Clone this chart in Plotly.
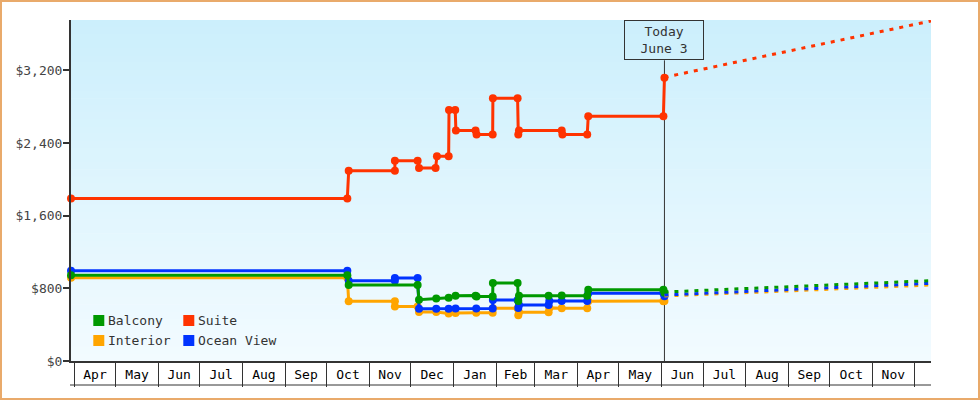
import plotly.graph_objects as go

# ---------------- data ----------------
series_names = ["Interior", "Ocean View", "Balcony", "Suite"]
series_colors = ["#ffa500", "#0033ff", "#009900", "#ff3300"]

interior_dates = ["2012-03-29 14:00", "2012-10-16", "2012-10-17", "2012-11-19 12:00", "2012-11-19 12:00",
                  "2012-12-06", "2012-12-07", "2012-12-19 12:00", "2012-12-28 12:00", "2013-01-02 12:00",
                  "2013-01-17 12:00", "2013-01-29 10:00", "2013-01-29 14:00", "2013-02-16 12:00", "2013-02-17",
                  "2013-02-17 12:00", "2013-03-11", "2013-03-11 12:00", "2013-03-20 12:00", "2013-04-08",
                  "2013-04-08 18:00", "2013-06-02 06:00", "2013-06-03"]
interior_prices = [918, 918, 657, 657, 600, 600, 540, 540, 522, 528,
                   532, 532, 580, 580, 505, 536, 536, 585, 582, 580,
                   657, 657, 660]

ocean_dates = ["2012-03-29 14:00", "2012-10-16", "2012-10-17", "2012-11-19 12:00", "2012-11-19 12:00",
               "2012-12-06", "2012-12-07", "2012-12-19 12:00", "2012-12-28 12:00", "2013-01-02 12:00",
               "2013-01-17 12:00", "2013-01-29 10:00", "2013-01-29 14:00", "2013-02-16 12:00", "2013-02-17",
               "2013-02-17 12:00", "2013-03-11", "2013-03-11 12:00", "2013-03-20 12:00", "2013-04-08",
               "2013-04-08 18:00", "2013-06-02 06:00", "2013-06-03"]
ocean_prices = [995, 995, 883, 883, 913, 913, 575, 575, 575, 578,
                578, 578, 672, 672, 585, 617, 617, 661, 661, 661,
                746, 746, 712]

balcony_dates = ["2012-03-29 14:00", "2012-10-16", "2012-10-17", "2012-12-06", "2012-12-07",
                 "2012-12-19 12:00", "2012-12-28 12:00", "2013-01-02 12:00", "2013-01-17", "2013-01-17 18:00",
                 "2013-01-29 10:00", "2013-01-29 14:00", "2013-02-16 12:00", "2013-02-17", "2013-02-17 12:00",
                 "2013-03-11", "2013-03-20 12:00", "2013-04-08", "2013-04-08 18:00", "2013-06-02 06:00",
                 "2013-06-03"]
balcony_prices = [945, 945, 837, 837, 675, 688, 697, 718, 720, 710,
                  710, 860, 860, 660, 720, 720, 722, 720, 785, 785,
                  752]

suite_dates = ["2012-03-29 14:00", "2012-10-16", "2012-10-17", "2012-11-19 12:00", "2012-11-19 12:00",
               "2012-12-06", "2012-12-07", "2012-12-19", "2012-12-20", "2012-12-28 12:00",
               "2012-12-28 18:00", "2013-01-02 06:00", "2013-01-02 18:00", "2013-01-17", "2013-01-17 18:00",
               "2013-01-29 10:00", "2013-01-29 14:00", "2013-02-16 12:00", "2013-02-17", "2013-02-17 12:00",
               "2013-03-20 12:00", "2013-03-21", "2013-04-08", "2013-04-08 18:00", "2013-06-02 06:00",
               "2013-06-03"]
suite_prices = [1790, 1790, 2095, 2095, 2205, 2205, 2125, 2125, 2255, 2255,
                2765, 2765, 2540, 2540, 2495, 2495, 2895, 2895, 2495, 2540,
                2540, 2495, 2495, 2695, 2695, 3120]

proj_dates = ["2013-06-03", "2013-12-13 08:00"]
interior_proj = [716, 837]
ocean_proj = [727, 856]
balcony_proj = [760, 885]
suite_proj = [3125, 3745]

today_date = "2013-06-03"
today_label = "Today<br>June 3"
x_range = ["2012-03-29 14:00", "2013-12-13 08:00"]
y_range = [0, 3756]
y_ticks = [0, 800, 1600, 2400, 3200]
y_tick_labels = ["$0", "$800", "$1,600", "$2,400", "$3,200"]
legend_order = ["Balcony", "Suite", "Interior", "Ocean View"]

# ---------------- layout geometry (pixels) ----------------
W, H = 980, 400
ML, MR, MT, MB = 71, 49, 20, 39
PW, PH = W - ML - MR, H - MT - MB


def px_x(px):
    return (px - ML) / PW


def px_y(py):
    return (H - MB - py) / PH


FONT = "DejaVu Sans Mono, monospace"

series = {
    "Interior": (interior_dates, interior_prices, interior_proj),
    "Ocean View": (ocean_dates, ocean_prices, ocean_proj),
    "Balcony": (balcony_dates, balcony_prices, balcony_proj),
    "Suite": (suite_dates, suite_prices, suite_proj),
}
color_of = dict(zip(series_names, series_colors))

fig = go.Figure()
for name in series_names:
    d, p, pr = series[name]
    fig.add_trace(go.Scatter(
        x=d, y=p, mode="lines+markers", name=name, showlegend=False,
        line=dict(color=color_of[name], width=3),
        marker=dict(color=color_of[name], size=8, symbol="circle"),
        cliponaxis=False, hoverinfo="skip"))
for name in series_names:
    d, p, pr = series[name]
    fig.add_trace(go.Scatter(
        x=proj_dates, y=pr, mode="lines", showlegend=False,
        line=dict(color=color_of[name], width=3, dash="4px,6px"),
        hoverinfo="skip"))

shapes = []
# gradient background of plot area
N = 48
top = (204, 239, 252)
bot = (242, 251, 255)
for i in range(N):
    t = i / (N - 1)
    c = tuple(round(top[k] + (bot[k] - top[k]) * t) for k in range(3))
    shapes.append(dict(type="rect", xref="paper", yref="paper", layer="below",
                       x0=0, x1=1, y1=1 - i / N, y0=1 - (i + 1) / N - 0.002,
                       fillcolor="rgb(%d,%d,%d)" % c, line=dict(width=0)))
# today line
shapes.append(dict(type="line", xref="x", yref="paper", layer="below",
                   x0=today_date, x1=today_date, y0=0, y1=px_y(60.3),
                   line=dict(color="#333333", width=1)))
# bottom line of month boxes
shapes.append(dict(type="line", xref="paper", yref="paper",
                   x0=px_x(70), x1=1, y0=px_y(385), y1=px_y(385),
                   line=dict(color="#333333", width=1)))
# outer border
shapes.append(dict(type="rect", xref="paper", yref="paper",
                   x0=px_x(1), x1=px_x(979), y0=px_y(399), y1=px_y(1),
                   line=dict(color="#e9aa6b", width=2), fillcolor="rgba(0,0,0,0)"))

annotations = [dict(x=today_date, xref="x", y=1, yref="paper", yanchor="top", xanchor="center",
                    text=today_label, showarrow=False, align="center",
                    font=dict(family=FONT, size=13, color="#333333"),
                    bordercolor="#333333", borderwidth=1, borderpad=1,
                    width=76, height=36)]

# manual legend (2 columns)
leg_cols = [93.3, 183.3]
leg_rows = [320.5, 340.5]
for i, name in enumerate(legend_order):
    cx = leg_cols[i % 2]
    cy = leg_rows[i // 2]
    shapes.append(dict(type="rect", xref="paper", yref="paper",
                       x0=px_x(cx), x1=px_x(cx + 11), y0=px_y(cy + 5.5), y1=px_y(cy - 5.5),
                       fillcolor=color_of[name], line=dict(width=0)))
    annotations.append(dict(x=px_x(cx + 12.5), y=px_y(cy), xref="paper", yref="paper",
                            xanchor="left", yanchor="middle", showarrow=False, text=name,
                            font=dict(family=FONT, size=13, color="#333333")))

fig.update_layout(
    width=W, height=H,
    margin=dict(l=ML, r=MR, t=MT, b=MB, pad=0),
    paper_bgcolor="white", plot_bgcolor="white",
    shapes=shapes, annotations=annotations,
    font=dict(family=FONT, size=13, color="#333333"),
    showlegend=False,
    xaxis=dict(type="date", range=x_range, showgrid=False, zeroline=False,
               showline=True, linewidth=2, linecolor="#333333",
               ticks="outside", ticklen=24, tickwidth=1, tickcolor="#333333",
               dtick="M1", tick0="2012-04-01", tickformat="%b", ticklabelmode="period",
               ticklabelstandoff=-24,
               tickfont=dict(family=FONT, size=13, color="#000000")),
    yaxis=dict(range=y_range, showgrid=False, zeroline=False,
               showline=True, linewidth=2, linecolor="#333333",
               tickmode="array", tickvals=y_ticks, ticktext=y_tick_labels,
               ticks="outside", ticklen=6, tickwidth=2, tickcolor="#333333",
               ticklabelstandoff=-2,
               tickfont=dict(family=FONT, size=13, color="#444444")),
)

fig.write_html("out.html")
